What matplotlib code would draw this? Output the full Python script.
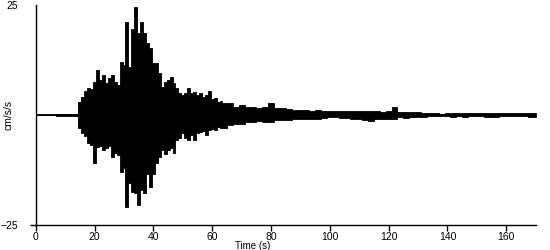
import numpy as np
import matplotlib
matplotlib.use("Agg")
import matplotlib.pyplot as plt

plt.rcParams["font.family"] = ["Liberation Sans", "DejaVu Sans"]

# Envelope of the accelerogram (time in s, cm/s/s)
TIME = [0, 14, 15, 16, 17, 18, 19, 20, 21, 22, 23, 24, 25, 26, 27, 28, 29,
        30, 31, 32, 33, 34, 35, 36, 37, 38, 39, 40, 41, 42, 43, 44, 45, 46,
        47, 48, 49, 50, 51, 52, 53, 54, 55, 56, 57, 58, 59, 60, 61, 62, 63,
        64, 66, 68, 70, 72, 74, 76, 78, 80, 82, 84, 86, 88, 90, 92, 94, 96,
        98, 100, 102, 104, 106, 108, 110, 112, 114, 116, 118, 120, 122, 124,
        126, 128, 130, 132, 134, 136, 138, 140, 142, 144, 146, 148, 150, 155,
        160, 165, 170]
UPPER = [0, 0.3, 3.0, 4.2, 5.5, 6.1, 5.8, 7.6, 10.2, 8.0, 9.0, 7.2, 8.4, 9.0,
         7.5, 6.8, 12.0, 11.4, 21.2, 11.0, 19.5, 24.6, 18.6, 21.2, 18.6, 16.3,
         15.2, 11.8, 11.8, 9.5, 6.4, 7.6, 8.0, 8.7, 7.2, 6.1, 4.9, 4.5, 5.0,
         6.1, 4.9, 5.3, 4.6, 4.9, 4.0, 4.5, 5.5, 3.6, 3.9, 3.0, 3.2, 2.8, 2.8,
         1.9, 2.3, 1.9, 1.9, 1.7, 1.9, 2.8, 1.5, 1.5, 1.4, 1.2, 1.1, 1.1, 1.0,
         1.1, 0.9, 0.8, 0.8, 0.9, 0.9, 0.8, 0.8, 0.8, 0.9, 0.8, 0.7, 0.9, 1.75,
         0.6, 0.7, 0.6, 0.6, 0.5, 0.4, 0.5, 0.3, 0.4, 0.5, 0.4, 0.5, 0.4, 0.5,
         0.5, 0.5, 0.5, 0.5]
LOWER = [0, -0.3, -3.0, -4.1, -4.8, -6.4, -6.8, -11.0, -7.3, -7.0, -8.0, -7.4,
         -7.0, -9.5, -8.7, -9.0, -13.0, -12.0, -20.9, -15.5, -17.5, -17.8,
         -20.5, -17.0, -17.8, -13.3, -16.3, -13.3, -11.0, -9.5, -8.0, -8.8,
         -8.0, -7.4, -8.7, -5.7, -5.2, -4.2, -5.2, -5.7, -4.5, -5.7, -4.2,
         -3.8, -3.6, -4.5, -3.4, -3.2, -3.4, -2.7, -2.9, -3.0, -2.3, -2.0,
         -2.0, -1.5, -1.5, -1.4, -1.5, -1.5, -1.1, -1.2, -1.1, -0.9, -0.8,
         -0.8, -0.9, -0.8, -0.6, -0.5, -0.5, -0.7, -0.7, -0.8, -0.9, -1.2,
         -1.3, -1.0, -0.9, -1.0, -0.8, -0.5, -0.6, -0.4, -0.4, -0.4, -0.3,
         -0.3, -0.2, -0.3, -0.4, -0.3, -0.4, -0.2, -0.3, -0.4, -0.3, -0.3,
         -0.4]

X_TICKS = [0, 20, 40, 60, 80, 100, 120, 140, 160]
Y_TICKS = [-25, 25]

fig = plt.figure(figsize=(5.5, 2.5), dpi=100)
ax = fig.add_axes([0.065, 0.1, 0.909, 0.88])

t = np.array(TIME, dtype=float)
ax.fill_between(t, LOWER, UPPER, step="mid", color="black", linewidth=0.6,
                edgecolor="black")
ax.plot([t[0], t[-1]], [0, 0], color="black", linewidth=1.3)

ax.set_xlim(0, 170)
ax.set_ylim(-25, 25)
ax.set_xticks(X_TICKS)
ax.set_yticks(Y_TICKS)
ax.tick_params(axis="both", labelsize=7.5, length=4, width=1, color="black")
ax.tick_params(axis="x", pad=1)
ax.tick_params(axis="y", pad=9)
ax.yaxis.get_major_ticks()[1].tick1line.set_visible(False)

for side in ("top", "right"):
    ax.spines[side].set_visible(False)
for side in ("left", "bottom"):
    ax.spines[side].set_linewidth(1)

ax.set_xlabel("Time (s)", fontsize=7)
ax.xaxis.set_label_coords(0.433, -0.072)
ax.xaxis.label.set_va("top")
ax.set_ylabel("cm/s/s", fontsize=7.5)
ax.yaxis.set_label_coords(-0.045, 0.5)

fig.savefig("out.png", dpi=100)
